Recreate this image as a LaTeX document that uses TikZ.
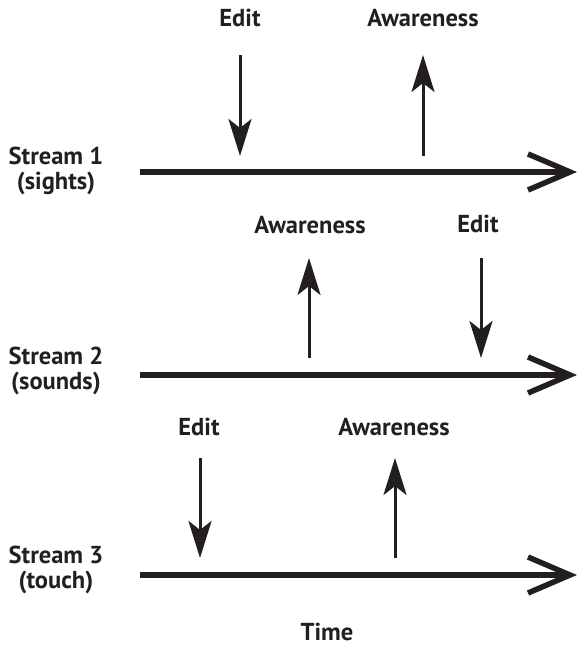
\documentclass[tikz,border=0pt]{standalone}
\usepackage{fontspec}
\setmainfont{PT Sans}
\usetikzlibrary{arrows.meta}
\definecolor{inkblack}{RGB}{35, 31, 32}

\begin{document}
\begin{tikzpicture}[x=1pt, y=-1pt,
    lbl/.style={font=\fontsize{24.5}{24.5}\selectfont\bfseries, text=inkblack,
                align=center, inner sep=0pt},
    timeline/.style={draw=inkblack, line width=5.5pt,
                     -{Straight Barb[length=42pt, width=36pt]}},
    event/.style={draw=inkblack, line width=3pt,
                  -{Stealth[length=37pt, width=23pt, inset=9pt]}}]
  \useasboundingbox (0,0) rectangle (580,647);

  % streams
  \node[lbl] (s1) at (56,171) {Stream 1\\(sights)};
  \node[lbl] (s2) at (56,371) {Stream 2\\(sounds)};
  \node[lbl] (s3) at (56,570) {Stream 3\\(touch)};
  \coordinate (s1a) at (140,172); \coordinate (s1b) at (577,172);
  \coordinate (s2a) at (140,375); \coordinate (s2b) at (577,375);
  \coordinate (s3a) at (140,575); \coordinate (s3b) at (577,575);
  \draw[timeline] (s1a) -- (s1b);
  \draw[timeline] (s2a) -- (s2b);
  \draw[timeline] (s3a) -- (s3b);

  % stream 1
  \node[lbl, anchor=base] (e1) at (240,27) {Edit};
  \node[lbl, anchor=base] (w1) at (423,27) {Awareness};
  \coordinate (e1t) at (240,55);  \coordinate (e1b) at (240,156);
  \coordinate (w1t) at (423,55);  \coordinate (w1b) at (423,156);
  \draw[event] (e1t) -- (e1b);
  \draw[event] (w1b) -- (w1t);

  % stream 2
  \node[lbl, anchor=base] (w2) at (310,233) {Awareness};
  \node[lbl, anchor=base] (e2) at (478,232) {Edit};
  \coordinate (w2t) at (309,258); \coordinate (w2b) at (309,358);
  \coordinate (e2t) at (481,258); \coordinate (e2b) at (481,358);
  \draw[event] (w2b) -- (w2t);
  \draw[event] (e2t) -- (e2b);

  % stream 3
  \node[lbl, anchor=base] (e3) at (199,435) {Edit};
  \node[lbl, anchor=base] (w3) at (394,435) {Awareness};
  \coordinate (e3t) at (200,458); \coordinate (e3b) at (200,558);
  \coordinate (w3t) at (395,458); \coordinate (w3b) at (395,558);
  \draw[event] (e3t) -- (e3b);
  \draw[event] (w3b) -- (w3t);

  \node[lbl, anchor=base] (time) at (327,640) {Time};
\end{tikzpicture}
\end{document}
